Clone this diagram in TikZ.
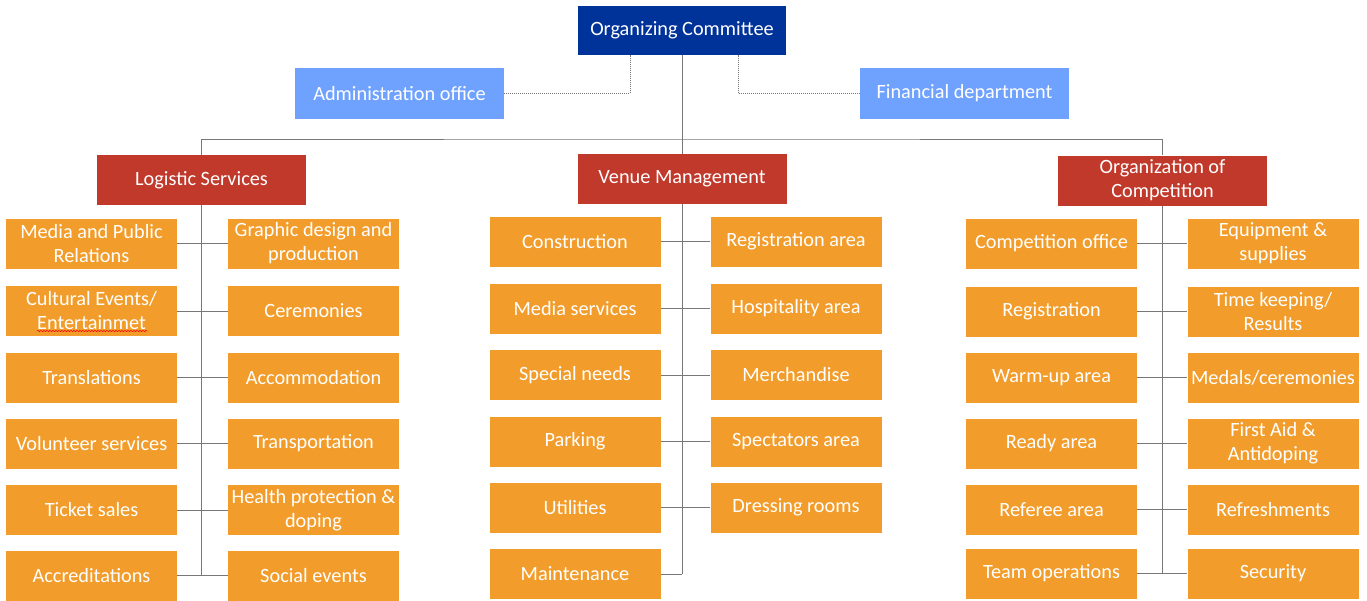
\documentclass[tikz,border=0pt]{standalone}
\usepackage{fontspec}
\setmainfont{Carlito}
\usetikzlibrary{decorations.pathmorphing}

\definecolor{ocblue}{RGB}{0,51,153}
\definecolor{staffblue}{RGB}{111,161,255}
\definecolor{deptred}{RGB}{192,57,43}
\definecolor{taskorange}{RGB}{242,157,43}
\definecolor{linkgray}{RGB}{120,120,120}

\tikzset{
  box/.style={inner sep=0pt, align=center, text=white,
    font=\fontsize{20.3}{24}\selectfont},
  topbox/.style={box, fill=ocblue, minimum width=208, minimum height=49},
  staffbox/.style={box, fill=staffblue, minimum width=209, minimum height=51},
  deptbox/.style={box, fill=deptred, minimum width=209, minimum height=50},
  taskbox/.style={box, fill=taskorange, minimum width=171, minimum height=50},
  link/.style={draw=linkgray, line width=1pt},
  stafflink/.style={draw=linkgray, densely dotted, line width=1pt}
}

\begin{document}
\begin{tikzpicture}[x=1pt, y=-1pt]
  \useasboundingbox[fill=white] (0,0) rectangle (1367,600);

  %% top of the chart
  \node[topbox] (oc) at (682,30.5) {Organizing Committee};
  \node[staffbox] (admin) at (399.5,93.5) {Administration office};
  \node[staffbox] (finance) at (964.5,93.5) {Financial department};

  %% departments
  \node[deptbox] (logistic) at (201.5,180) {Logistic Services};
  \node[deptbox] (venue) at (682,179) {Venue Management};
  \node[deptbox] (compet) at (1162.5,180.5) {Organization of\\Competition};

  %% Logistic Services
  \node[taskbox] (l1) at (91.5,243.5) {Media and Public\\Relations};
  \node[taskbox] (l2) at (313.5,243.5) {Graphic design and\\production};
  \node[taskbox] (l3) at (91.5,311) {Cultural Events/\\Entertainmet};
  \node[taskbox] (l4) at (313.5,311) {Ceremonies};
  \node[taskbox] (l5) at (91.5,377.5) {Translations};
  \node[taskbox] (l6) at (313.5,377.5) {Accommodation};
  \node[taskbox] (l7) at (91.5,443.5) {Volunteer services};
  \node[taskbox] (l8) at (313.5,443.5) {Transportation};
  \node[taskbox] (l9) at (91.5,510) {Ticket sales};
  \node[taskbox] (l10) at (313.5,510) {Health protection \&\\doping};
  \node[taskbox] (l11) at (91.5,575.5) {Accreditations};
  \node[taskbox] (l12) at (313.5,575.5) {Social events};

  %% Venue Management
  \node[taskbox] (v1) at (575,241.5) {Construction};
  \node[taskbox] (v2) at (796,241.5) {Registration area};
  \node[taskbox] (v3) at (575,308.5) {Media services};
  \node[taskbox] (v4) at (796,308.5) {Hospitality area};
  \node[taskbox] (v5) at (575,375) {Special needs};
  \node[taskbox] (v6) at (796,375) {Merchandise};
  \node[taskbox] (v7) at (575,441.5) {Parking};
  \node[taskbox] (v8) at (796,441.5) {Spectators area};
  \node[taskbox] (v9) at (575,507.5) {Utilities};
  \node[taskbox] (v10) at (796,507.5) {Dressing rooms};
  \node[taskbox] (v11) at (575,574) {Maintenance};

  %% Organization of Competition
  \node[taskbox] (c1) at (1051.5,243.5) {Competition office};
  \node[taskbox] (c2) at (1273,243.5) {Equipment \&\\supplies};
  \node[taskbox] (c3) at (1051.5,311.5) {Registration};
  \node[taskbox] (c4) at (1273,311.5) {Time keeping/\\Results};
  \node[taskbox] (c5) at (1051.5,377.5) {Warm-up area};
  \node[taskbox] (c6) at (1273,377.5) {Medals/ceremonies};
  \node[taskbox] (c7) at (1051.5,443.5) {Ready area};
  \node[taskbox] (c8) at (1273,443.5) {First Aid \&\\Antidoping};
  \node[taskbox] (c9) at (1051.5,509.5) {Referee area};
  \node[taskbox] (c10) at (1273,509.5) {Refreshments};
  \node[taskbox] (c11) at (1051.5,573.5) {Team operations};
  \node[taskbox] (c12) at (1273,573.5) {Security};

  %% spell-check squiggle under Entertainmet
  \draw[red, line width=.5pt, decorate, decoration={snake, amplitude=.7pt, segment length=3pt}]
    (37,331) -- (147,331);

  %% connectors
  \coordinate (bus) at (682,139);
  \draw[link] (oc.south) -- (bus);
  \draw[link] (logistic.north) |- (bus) -| (compet.north);
  \draw[link] (venue.north) -- (bus);
  \draw[stafflink] (admin.east) -| ([xshift=-52pt]oc.south);
  \draw[stafflink] (finance.west) -| ([xshift=56pt]oc.south);

  \draw[link] (logistic.south) -- (logistic.south |- l11.east);
  \draw[link] (venue.south) -- (venue.south |- v11.east);
  \draw[link] (compet.south) -- (compet.south |- c11.east);
  \foreach \a/\b in {l1/l2,l3/l4,l5/l6,l7/l8,l9/l10,l11/l12,
                     v1/v2,v3/v4,v5/v6,v7/v8,v9/v10,
                     c1/c2,c3/c4,c5/c6,c7/c8,c9/c10,c11/c12}
    \draw[link] (\a.east) -- (\b.west);
  \draw[link] (v11.east) -- (venue.south |- v11.east);
\end{tikzpicture}
\end{document}
